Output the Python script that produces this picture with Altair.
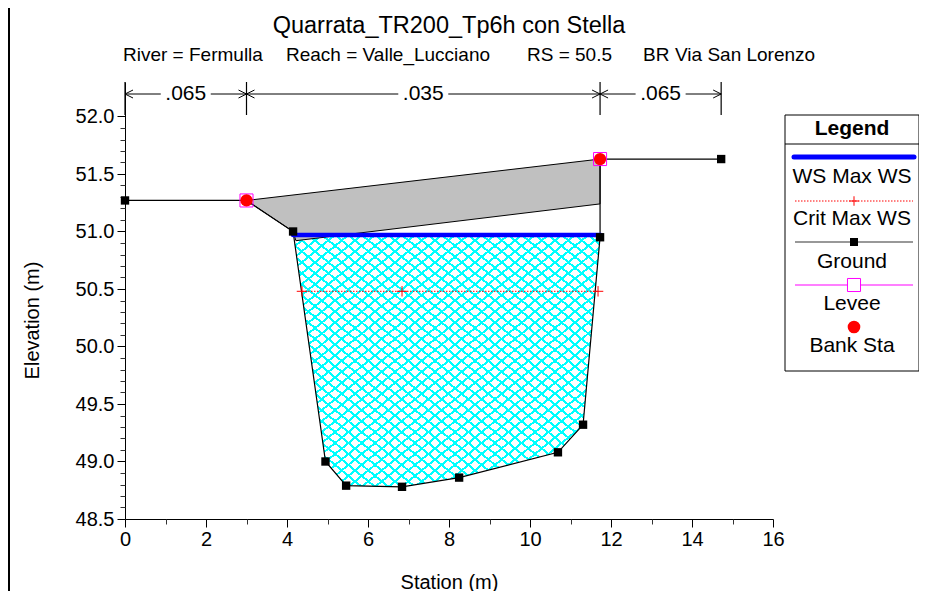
import altair as alt
import pandas as pd

# ---------------- data ----------------
TITLE = "Quarrata_TR200_Tp6h con Stella"
SUB_PARTS = ["River = Fermulla", "Reach = Valle_Lucciano", "RS = 50.5", "BR", "Via San Lorenzo"]

ground_sta = [0.0, 3.0, 4.15, 4.95, 5.46, 6.84, 8.25, 10.69, 11.31, 11.73, 11.73, 14.72]
ground_elev = [51.27, 51.27, 51.00, 49.00, 48.79, 48.78, 48.86, 49.08, 49.32, 50.95, 51.63, 51.63]

bank_sta = [3.0, 11.73]
bank_elev = [51.27, 51.63]

ws_sta = [4.15, 11.75]
ws_elev = [50.97, 50.97]

crit_sta = [4.37, 6.84, 11.68]
crit_elev = [50.48, 50.48, 50.48]

deck_sta = [3.0, 4.15, 4.22, 11.73, 11.73, 3.0]
deck_elev = [51.27, 51.00, 50.92, 51.24, 51.63, 51.27]

water_sta = [4.16, 4.95, 5.46, 6.84, 8.25, 10.69, 11.31, 11.73, 11.73, 4.16]
water_elev = [50.97, 49.00, 48.79, 48.78, 48.86, 49.08, 49.32, 50.95, 50.97, 50.97]

n_bounds = [0.0, 3.0, 11.73, 14.72]
n_values = [".065", ".035", ".065"]

legend_labels = ["WS Max WS", "Crit Max WS", "Ground", "Levee", "Bank Sta"]

x_ticks = [0, 2, 4, 6, 8, 10, 12, 14, 16]
x_minor = [1, 3, 5, 7, 9, 11, 13, 15]
y_ticks = [48.5, 49.0, 49.5, 50.0, 50.5, 51.0, 51.5, 52.0]
y_minor = [48.6, 48.7, 48.8, 48.9, 49.1, 49.2, 49.3, 49.4, 49.6, 49.7, 49.8, 49.9,
           50.1, 50.2, 50.3, 50.4, 50.6, 50.7, 50.8, 50.9, 51.1, 51.2, 51.3, 51.4,
           51.6, 51.7, 51.8, 51.9]

# ---------------- tables ----------------
def poly(sta, elev):
    return pd.DataFrame({"sta": sta, "elev": elev, "i": list(range(len(sta)))})

ground_df = poly(ground_sta, ground_elev)
bank_df = pd.DataFrame({"sta": bank_sta, "elev": bank_elev})
ws_df = poly(ws_sta, ws_elev)
crit_df = poly(crit_sta, crit_elev)
deck_df = poly(deck_sta, deck_elev)
water_df = poly(water_sta, water_elev)
nseg_df = pd.DataFrame({
    "start": n_bounds[:-1],
    "end": n_bounds[1:],
    "mid": [(a + b) / 2 for a, b in zip(n_bounds[:-1], n_bounds[1:])],
    "label": n_values,
})
nb_df = pd.DataFrame({"sta": n_bounds})
one = pd.DataFrame({"k": [0]})

FONT = "Liberation Sans"
xs = alt.Scale(domain=[0, 16], nice=False, zero=False)
ys = alt.Scale(domain=[48.5, 52.3], nice=False, zero=False)
X = lambda f="sta": alt.X(f"{f}:Q", scale=xs, axis=None)
Y = lambda f="elev": alt.Y(f"{f}:Q", scale=ys, axis=None)

# crosshatch via striped gradients
def stripes(x1, y1, x2, y2, n=46, frac=0.24):
    cy = "#00FFFF"
    tr = "rgba(0,255,255,0)"
    st = []
    for k in range(n):
        p0, p1, p2 = k / n, (k + frac) / n, (k + 1) / n
        st += [alt.GradientStop(color=cy, offset=p0), alt.GradientStop(color=cy, offset=p1),
               alt.GradientStop(color=tr, offset=p1), alt.GradientStop(color=tr, offset=p2)]
    return alt.LinearGradient(gradient="linear", stops=st, x1=x1, y1=y1, x2=x2, y2=y2)

water1 = alt.Chart(water_df).mark_line(fill=stripes(0, 0, 1, 1), strokeOpacity=0).encode(
    x=X(), y=Y(), order="i:Q")
water2 = alt.Chart(water_df).mark_line(fill=stripes(0, 1, 1, 0), strokeOpacity=0).encode(
    x=X(), y=Y(), order="i:Q")

deck = alt.Chart(deck_df).mark_line(fill="#C0C0C0", stroke="black", strokeWidth=1).encode(
    x=X(), y=Y(), order="i:Q")

ground = alt.Chart(ground_df).mark_line(color="black", strokeWidth=1.2).encode(
    x=alt.X("sta:Q", scale=xs, axis=alt.Axis(
        values=x_ticks, format="d", tickSize=8, labelPadding=2, grid=False, labelFlush=False,
        title="Station (m)", titleY=63, titleBaseline="middle", titleFontWeight="normal",
        titleFontSize=20, labelFontSize=20, orient="bottom")),
    y=alt.Y("elev:Q", scale=ys, axis=alt.Axis(
        values=y_ticks, format=".1f", tickSize=8, labelPadding=3, grid=False, labelFlush=False,
        title="Elevation (m)", titleX=-93, titleY=238, titleBaseline="middle",
        titleFontWeight="normal", titleFontSize=20, labelFontSize=20, orient="left")),
    order="i:Q")

minor = alt.Chart(ground_df).mark_point(opacity=0).encode(
    x=alt.X("sta:Q", scale=xs, axis=alt.Axis(values=x_minor, labels=False, domain=False,
                                             tickSize=5, title=None, grid=False, orient="bottom",
                                             tickColor="#333")),
    y=alt.Y("elev:Q", scale=ys, axis=alt.Axis(values=y_minor, labels=False, domain=False,
                                              tickSize=5, title=None, grid=False, orient="left",
                                              tickColor="#333")))

crit = alt.Chart(crit_df).mark_line(color="red", strokeWidth=1, strokeDash=[1.5, 1.5]).encode(
    x=X(), y=Y(), order="i:Q")
PLUS = "M-1,0L1,0M0,-1L0,1"
crit_pts = alt.Chart(crit_df).mark_point(shape=PLUS, size=110, stroke="red", strokeWidth=1,
                                         filled=False, opacity=1).encode(x=X(), y=Y())

ws = alt.Chart(ws_df).mark_line(color="#0000FF", strokeWidth=4.5, strokeCap="round").encode(
    x=X(), y=Y(), order="i:Q")

ground_pts = alt.Chart(ground_df).mark_square(size=70, color="black", opacity=1).encode(x=X(), y=Y())
levee = alt.Chart(bank_df).mark_point(shape="square", size=170, stroke="#FF00FF", strokeWidth=1,
                                      filled=False, opacity=1).encode(x=X(), y=Y())
banks = alt.Chart(bank_df).mark_circle(size=150, color="red", opacity=1).encode(x=X(), y=Y())

# Manning's n brackets
BY = 12
brk_v = alt.Chart(nb_df).mark_rule(color="black", strokeWidth=1.2).encode(
    x=X(), y=alt.value(0), y2=alt.value(33))
brk_l = alt.Chart(nseg_df).mark_rule(color="black", strokeWidth=1, x2Offset=-25).encode(
    x=X("start"), x2="mid:Q", y=alt.value(BY))
brk_r = alt.Chart(nseg_df).mark_rule(color="black", strokeWidth=1, xOffset=25).encode(
    x=X("mid"), x2="end:Q", y=alt.value(BY))
LARROW = "M2,-1L0,0L2,1"
RARROW = "M-2,-1L0,0L-2,1"
arr_l = alt.Chart(nseg_df).mark_point(shape=LARROW, size=64, stroke="black", strokeWidth=1,
                                      filled=False, opacity=1).encode(x=X("start"), y=alt.value(BY))
arr_r = alt.Chart(nseg_df).mark_point(shape=RARROW, size=64, stroke="black", strokeWidth=1,
                                      filled=False, opacity=1).encode(x=X("end"), y=alt.value(BY))
brk_t = alt.Chart(nseg_df).mark_text(fontSize=21, font=FONT, color="black", baseline="middle").encode(
    x=X("mid"), y=alt.value(BY), text="label:N")

# titles
title = alt.Chart(one).mark_text(text=TITLE, fontSize=23.5, font=FONT, color="black",
                                 align="center", baseline="alphabetic").encode(
    x=alt.value(324), y=alt.value(-49))
sub_x = [-2, 161, 402, 518, 550]
sub_df = pd.DataFrame({"t": SUB_PARTS, "px": sub_x})
subtitle = alt.Chart(sub_df).mark_text(fontSize=19, font=FONT, color="black", align="left",
                                       baseline="alphabetic").encode(
    x=alt.X("px:Q", scale=None), y=alt.value(-21), text="t:N")

# legend
LX0, LX1 = 660, 794
LC = (LX0 + LX1) / 2
leg_box = alt.Chart(one).mark_rect(fill="white", stroke="black", strokeWidth=1).encode(
    x=alt.value(LX0), x2=alt.value(LX1), y=alt.value(33), y2=alt.value(289))
leg_sep = alt.Chart(one).mark_rule(color="black", strokeWidth=1).encode(
    x=alt.value(LX0), x2=alt.value(LX1), y=alt.value(62))
leg_head = alt.Chart(one).mark_text(text="Legend", fontSize=21, fontWeight="bold", font=FONT,
                                    color="black", baseline="middle").encode(
    x=alt.value(LC), y=alt.value(47))
leg_df = pd.DataFrame({"t": legend_labels, "py": [95, 137, 180, 222, 264]})
leg_txt = alt.Chart(leg_df).mark_text(fontSize=21, font=FONT, color="black", baseline="middle").encode(
    x=alt.value(LC), y=alt.Y("py:Q", scale=None), text="t:N")
leg_ws = alt.Chart(one).mark_rule(color="#0000FF", strokeWidth=5, strokeCap="round").encode(
    x=alt.value(LX0 + 9), x2=alt.value(LX1 - 5), y=alt.value(75))
leg_crit = alt.Chart(one).mark_rule(color="red", strokeWidth=1, strokeDash=[1.5, 1.5]).encode(
    x=alt.value(LX0 + 10), x2=alt.value(LX1 - 6), y=alt.value(119))
leg_crit_p = alt.Chart(one).mark_point(shape=PLUS, size=90, stroke="red", strokeWidth=1,
                                       filled=False, opacity=1).encode(x=alt.value(LC + 2), y=alt.value(119))
leg_gr = alt.Chart(one).mark_rule(color="#333", strokeWidth=1.2).encode(
    x=alt.value(LX0 + 10), x2=alt.value(LX1 - 6), y=alt.value(160))
leg_gr_p = alt.Chart(one).mark_square(size=64, color="black", opacity=1).encode(
    x=alt.value(LC + 2), y=alt.value(160))
leg_lv = alt.Chart(one).mark_rule(color="#FF00FF", strokeWidth=1.2).encode(
    x=alt.value(LX0 + 10), x2=alt.value(LX1 - 6), y=alt.value(203))
leg_lv_p = alt.Chart(one).mark_point(shape="square", size=170, stroke="#FF00FF", fill="white",
                                     strokeWidth=1, filled=True, opacity=1).encode(
    x=alt.value(LC + 2), y=alt.value(203))
leg_bk = alt.Chart(one).mark_circle(size=160, color="red", opacity=1).encode(
    x=alt.value(LC + 2), y=alt.value(245))

frame = alt.Chart(one).mark_rule(color="black", strokeWidth=3).encode(
    x=alt.value(-116.5), y=alt.value(-82), y2=alt.value(510))

chart = alt.layer(
    water1, water2, deck, ground, minor, crit, crit_pts, ws, ground_pts, levee, banks,
    brk_v, brk_l, brk_r, arr_l, arr_r, brk_t, title, subtitle,
    leg_box, leg_sep, leg_head, leg_txt, leg_ws, leg_crit, leg_crit_p, leg_gr, leg_gr_p,
    leg_lv, leg_lv_p, leg_bk, frame,
).resolve_axis(x="independent", y="independent").properties(
    width=648, height=437,
    autosize=alt.AutoSizeParams(type="none"),
    padding={"left": 117, "top": 74, "right": 146, "bottom": 72},
    background="white",
).configure_view(stroke=None).configure_axis(
    labelFont=FONT, titleFont=FONT, labelColor="black", titleColor="black",
    domainColor="black", tickColor="black", domainWidth=1, tickWidth=1,
).configure_text(font=FONT)

chart.save("out.html", embed_options={"renderer": "svg", "actions": False})
